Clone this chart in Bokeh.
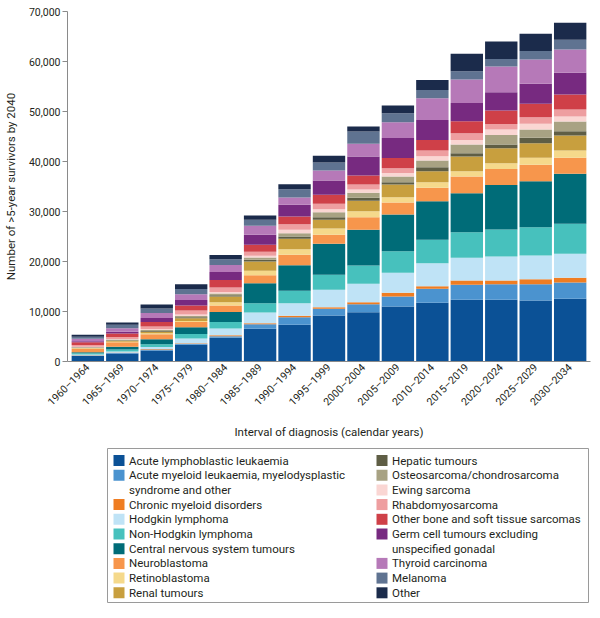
import math
from bokeh.plotting import figure
from bokeh.models import ColumnDataSource, FactorRange, Range1d, NumeralTickFormatter, FixedTicker
from bokeh.layouts import column
from bokeh.embed import file_html
from bokeh.resources import INLINE
from bokeh.core.properties import value

# ---------------- data ----------------
intervals = ["1960–1964", "1965–1969", "1970–1974", "1975–1979", "1980–1984",
             "1985–1989", "1990–1994", "1995–1999", "2000–2004", "2005–2009",
             "2010–2014", "2015–2019", "2020–2024", "2025–2029", "2030–2034"]

series_labels = [
    "Acute lymphoblastic leukaemia",
    "Acute myeloid leukaemia, myelodysplastic\nsyndrome and other",
    "Chronic myeloid disorders",
    "Hodgkin lymphoma",
    "Non-Hodgkin lymphoma",
    "Central nervous system tumours",
    "Neuroblastoma",
    "Retinoblastoma",
    "Renal tumours",
    "Hepatic tumours",
    "Osteosarcoma/chondrosarcoma",
    "Ewing sarcoma",
    "Rhabdomyosarcoma",
    "Other bone and soft tissue sarcomas",
    "Germ cell tumours excluding\nunspecified gonadal",
    "Thyroid carcinoma",
    "Melanoma",
    "Other",
]

colors = ["#0b5196", "#4b93cf", "#ef7d22", "#bfe3f6", "#47c1bd", "#006c78",
          "#f7964c", "#f5d98b", "#c89f3e", "#5f5e45", "#a8a283", "#fad6d3",
          "#ee9ea0", "#cf4048", "#772a80", "#b679b8", "#5f7391", "#1b2b4b"]

all_leuk   = [1100, 1600, 2200, 3330, 4730, 6530, 7330, 9200, 9870, 11000, 11730, 12330, 12330, 12200, 12530]
aml        = [100, 130, 200, 200, 330, 930, 1530, 1330, 1600, 2000, 2800, 3000, 3130, 3270, 3270]
cml        = [50, 70, 100, 130, 200, 200, 270, 330, 400, 730, 530, 870, 730, 1000, 930]
hodgkin    = [130, 200, 400, 930, 1330, 2130, 2530, 3470, 3670, 4000, 4600, 4530, 4800, 4730, 4800]
nhl        = [270, 400, 530, 930, 1330, 1870, 2470, 3000, 3670, 4330, 4670, 5130, 5400, 5670, 6000]
cns        = [200, 530, 1000, 1330, 2000, 4000, 5130, 6200, 7130, 7330, 7730, 7800, 8930, 9200, 10000]
neuro      = [700, 930, 1000, 1070, 1270, 1600, 2070, 1800, 2530, 2400, 2670, 3330, 3200, 3270, 3200]
retino     = [80, 100, 200, 200, 670, 870, 1130, 1270, 1200, 1070, 1130, 1070, 1130, 1400, 1470]
renal      = [80, 200, 300, 530, 1130, 1870, 2070, 1730, 2070, 2530, 2200, 2930, 3000, 2930, 3000]
hepatic    = [80, 100, 150, 200, 270, 330, 470, 530, 600, 470, 800, 670, 730, 1070, 870]
osteo      = [80, 130, 200, 270, 330, 470, 670, 1000, 1000, 1130, 1330, 1730, 1930, 1670, 1930]
ewing      = [80, 130, 200, 270, 330, 330, 670, 600, 670, 730, 870, 930, 1070, 1130, 1000]
rhabdo     = [330, 400, 530, 800, 870, 800, 1130, 1070, 1000, 930, 1130, 1330, 1130, 1330, 1400]
other_bone = [550, 700, 870, 1000, 1530, 1400, 1530, 1800, 1800, 2070, 2130, 2400, 2670, 2670, 3000]
germ       = [200, 330, 800, 1130, 1600, 2000, 2330, 2870, 3800, 4000, 4000, 3670, 3670, 4000, 4330]
thyroid    = [500, 700, 1000, 1130, 1400, 1800, 1470, 2000, 2530, 3130, 4330, 4670, 5130, 4870, 4670]
melanoma   = [400, 700, 900, 1070, 1130, 1200, 1670, 1600, 2470, 1800, 1670, 1670, 1530, 1670, 1940]
other      = [400, 470, 800, 930, 870, 870, 1000, 1330, 1000, 1530, 2000, 3470, 3470, 3470, 3400]

series_values = [all_leuk, aml, cml, hodgkin, nhl, cns, neuro, retino, renal, hepatic,
                 osteo, ewing, rhabdo, other_bone, germ, thyroid, melanoma, other]

y_ticks = [0, 10000, 20000, 30000, 40000, 50000, 60000, 70000]

FONT = "Roboto"
TXT = "#231f20"
AX = "#8a8a8a"

# ---------------- main chart ----------------
keys = ["s%d" % i for i in range(len(series_values))]
data = {"interval": intervals}
for k, v in zip(keys, series_values):
    data[k] = v
src = ColumnDataSource(data)

p = figure(width=600, height=445, output_backend="svg", toolbar_location=None,
           x_range=FactorRange(*intervals, range_padding=0.012),
           y_range=Range1d(0, 70000))
p.frame_align = False
p.min_border_left = 60
p.min_border_right = 10
p.min_border_top = 11
p.min_border_bottom = 84
p.outline_line_color = None
p.grid.visible = False

p.vbar_stack(keys, x="interval", width=0.94, source=src, color=colors, line_color=None)

p.yaxis.ticker = FixedTicker(ticks=y_ticks)
p.yaxis.formatter = NumeralTickFormatter(format="0,0")
p.yaxis.axis_label = "Number of >5-year survivors by 2040"
p.xaxis.axis_label = "Interval of diagnosis (calendar years)"
p.xaxis.major_label_orientation = math.pi / 4

for ax in (p.xaxis[0], p.yaxis[0]):
    ax.axis_line_color = AX
    ax.major_tick_line_color = AX
    ax.minor_tick_line_color = None
    ax.major_label_text_font = FONT
    ax.major_label_text_color = TXT
    ax.axis_label_text_font = FONT
    ax.axis_label_text_font_style = "normal"
    ax.axis_label_text_color = TXT
    ax.axis_label_text_font_size = "11.5px"

p.yaxis.major_label_text_font_size = "10.5px"
p.yaxis.major_tick_out = 5
p.yaxis.major_tick_in = 0
p.yaxis.major_label_standoff = 2
p.yaxis.axis_label_standoff = 8
p.xaxis.major_label_text_font_size = "10.5px"
p.xaxis.major_tick_out = 0
p.xaxis.major_tick_in = 0
p.xaxis.major_label_standoff = 4
p.xaxis.axis_label_standoff = 9

# ---------------- legend ----------------
lg = figure(width=600, height=173, output_backend="svg", toolbar_location=None,
            x_range=Range1d(0, 600), y_range=Range1d(173, 0),
            x_axis_location=None, y_axis_location=None,
            min_border=0, min_border_left=0, min_border_right=0,
            min_border_top=0, min_border_bottom=0)
lg.frame_align = False
lg.outline_line_color = None
lg.grid.visible = False

lg.quad(left=[107], right=[588], top=[3], bottom=[157], fill_color=None,
        line_color="#9a9a9a", line_width=1)

n_left = 9
slot_h = 14.7
y0 = 15
sq_x, sq_y, sq_c = [], [], []
tx, ty, tt = [], [], []
slot = 0
for i, (lab, c) in enumerate(zip(series_labels, colors)):
    if i == n_left:
        slot = 0
    col_x = 118.5 if i < n_left else 381.5
    sq_x.append(col_x)
    sq_y.append(y0 + slot * slot_h)
    sq_c.append(c)
    for line in lab.split("\n"):
        tx.append(col_x + 10)
        ty.append(y0 + slot * slot_h)
        tt.append(line)
        slot += 1

lg.rect(x=sq_x, y=sq_y, width=11, height=11, fill_color=sq_c, line_color=None)
lg.text(x=tx, y=ty, text=tt, text_font=value(FONT), text_font_size="11.5px",
        text_baseline="middle", text_align="left", text_color=TXT)

layout = column(p, lg, spacing=0)
open("out.html", "w").write(file_html(layout, INLINE))
